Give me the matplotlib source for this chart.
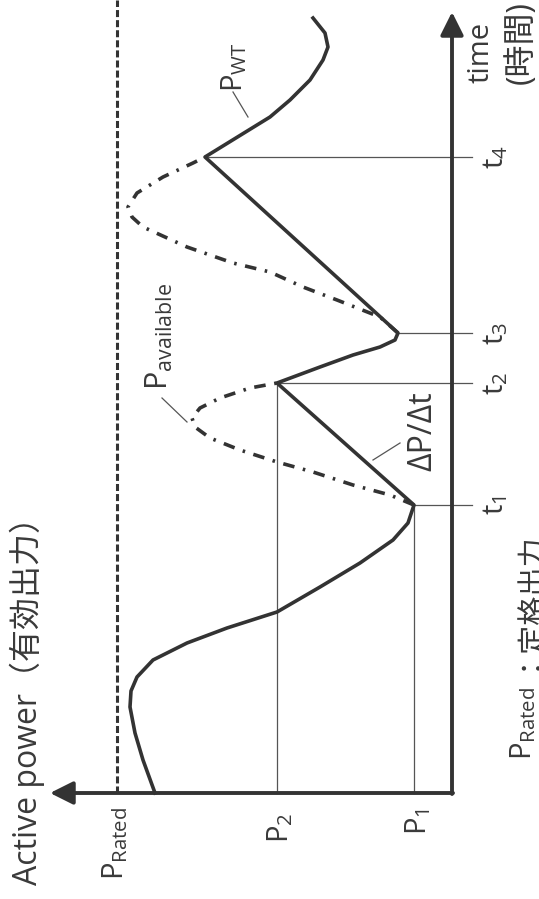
import numpy as np
import matplotlib.pyplot as plt

# Values (power and time in picture units, origin at the axes corner)
p_rated = 335
p_1 = 38
p_2 = 175
t_marks = [288, 410, 460, 636]
t_names = ["t_1", "t_2", "t_3", "t_4"]

# P_WT: measured turbine output
wt_power = [297, 309, 317, 322, 321, 315, 299, 265, 225, 175, 132, 92, 59, 44, 38,
            175, 132, 99, 72, 57, 54, 247, 182, 162, 142, 129, 124, 127, 139]
wt_time = [0, 33, 60, 86, 102, 116, 133, 150, 165, 181, 206, 230, 253, 270, 288,
           410, 426, 438, 446, 453, 460, 636, 676, 693, 713, 733, 746, 760, 775]

# P_available: two humps between t1-t2 and t3-t4
av1_power = [38, 62, 99, 139, 175, 212, 242, 257, 260, 252, 232, 202, 175]
av1_time = [288, 298, 308, 321, 331, 343, 355, 366, 375, 385, 395, 405, 410]
av2_power = [54, 72, 115, 149, 182, 219, 265, 309, 320, 324, 315, 289, 259, 247]
av2_time = [460, 476, 493, 506, 521, 530, 546, 566, 576, 586, 600, 616, 630, 636]

plt.rcParams["font.family"] = ["Open Sans", "Noto Sans CJK JP", "DejaVu Sans"]
plt.rcParams["mathtext.fontset"] = "custom"
plt.rcParams["mathtext.rm"] = "Open Sans"

dark = "#333333"
thin = "#555555"
lab = "#3a3a3a"

fig = plt.figure(figsize=(5.39, 8.99), dpi=100)
ax = fig.add_axes([0, 0, 1, 1])
ax.axis("off")
ax.set_xlim(452, -87)
ax.set_ylim(-106, 793)

# axes with arrows
arrow = dict(arrowstyle="-|>,head_length=0.7,head_width=0.35", lw=2.8, color=dark,
             mutation_scale=20, shrinkA=0, shrinkB=0)
ax.annotate("", xy=(402, 0), xytext=(-1, 0), arrowprops=arrow)
ax.annotate("", xy=(0, 781), xytext=(0, -1), arrowprops=arrow)

# rated power
ax.plot([p_rated, p_rated], [0, 793], color=dark, lw=2.2, ls=(0, (2.3, 1.0)))

# reference lines
wt_at_t = [38, 175, 54, 247]
for tm, pw in zip(t_marks, wt_at_t):
    ax.plot([pw, -20], [tm, tm], color=thin, lw=0.9)
ax.plot([p_1, p_1], [0, t_marks[0]], color=thin, lw=0.9)
ax.plot([p_2, p_2], [0, t_marks[1]], color=thin, lw=0.9)

# curves
dashdot = (0, (3.2, 2.4, 0.7, 2.4))
ax.plot(av1_power, av1_time, color=dark, lw=2.6, ls=dashdot)
ax.plot(av2_power, av2_time, color=dark, lw=2.6, ls=dashdot)
ax.plot(wt_power, wt_time, color=dark, lw=2.6, solid_joinstyle="round")

# leader lines
ax.plot([219, 204], [701, 676], color=thin, lw=0.9)
ax.plot([290, 265], [395, 371], color=thin, lw=0.9)
ax.plot([79, 52], [333, 350], color=thin, lw=0.9)

# labels
fs = 21
for tm, nm in zip(t_marks, t_names):
    ax.text(-44, tm, r"$\mathrm{%s}$" % nm, rotation=90, ha="center", va="center",
            fontsize=fs, color=lab)
ax.text(337, -14, r"$\mathrm{P_{Rated}}$", rotation=90, ha="center", va="top",
        fontsize=fs, color=lab)
ax.text(172, -20, r"$\mathrm{P_2}$", rotation=90, ha="center", va="top",
        fontsize=fs, color=lab)
ax.text(34, -15, r"$\mathrm{P_1}$", rotation=90, ha="center", va="top",
        fontsize=fs, color=lab)
ax.text(218, 701, r"$\mathrm{P_{WT}}$", rotation=90, ha="center", va="bottom",
        fontsize=fs, color=lab)
ax.text(293, 403, r"$\mathrm{P_{available}}$", rotation=90, ha="center", va="bottom",
        fontsize=22, color=lab)
ax.text(29, 362, "ΔP/Δt", rotation=90, ha="center", va="center",
        fontsize=23, color=lab)
ax.text(-29, 710, "time", rotation=90, ha="center", va="bottom",
        fontsize=fs, color=lab)
ax.text(-86, 792, "(時間)", rotation=90, ha="right", va="top",
        fontsize=23, color=lab)
ax.text(425, -92, "Active power（有効出力）", rotation=90, ha="center", va="bottom",
        fontsize=23, color=lab)

# note at the right edge
ax.text(-86, 33, r"$\mathrm{P_{Rated}}$", rotation=90, ha="right", va="bottom",
        fontsize=fs, color=lab)
ax.text(-86, 123, "：定格出力", rotation=90, ha="right", va="bottom",
        fontsize=fs, color=lab)

fig.savefig("out.png", dpi=100)
